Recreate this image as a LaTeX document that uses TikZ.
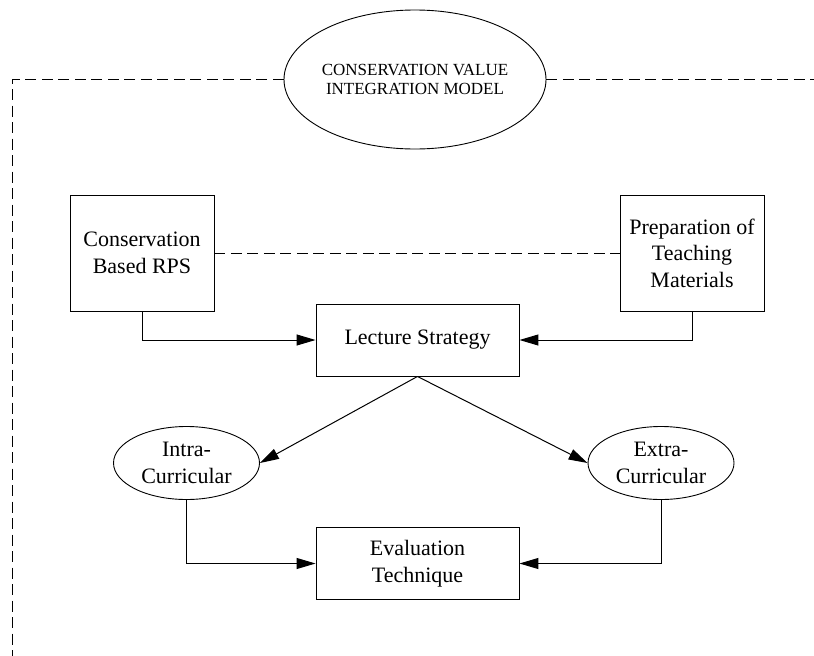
\documentclass[tikz,border=0pt]{standalone}
\usepackage{fontspec}
\setmainfont{Liberation Serif}
\newfontfamily\diagfont{Liberation Serif}
\usetikzlibrary{arrows.meta,shapes.geometric}

\tikzset{
	boxnode/.style={draw, rectangle, line width=0.9pt, align=center, inner sep=0pt,
		font=\diagfont\fontsize{22}{26.5}\selectfont},
	ovalnode/.style={draw, ellipse, line width=0.9pt, align=center, inner sep=0pt,
		minimum width=146pt, minimum height=73pt, font=\diagfont\fontsize{22}{26.5}\selectfont},
	flowarrow/.style={line width=1pt, -{Triangle[length=19pt,width=11pt]}},
	frameline/.style={line width=0.9pt, dash pattern=on 11pt off 5.5pt},
}

\begin{document}
\begin{tikzpicture}[x=1pt,y=-1pt]
		\useasboundingbox (0,0) rectangle (814,656);
		
		% title and the frame round the model
		\node[draw, ellipse, line width=0.9pt, align=center, inner xsep=-6pt, inner ysep=0pt,
			minimum width=262pt, minimum height=139pt, font=\diagfont\fontsize{17}{19.5}\selectfont]
			(title) at (415,79.5) {CONSERVATION VALUE\\INTEGRATION MODEL};
		\coordinate (frameBL) at (12.7,656);
		\coordinate (frameR) at (814,79.5);
		\draw[frameline] (title.west) -| (frameBL);
		\draw[frameline] (title.east) -- (title.east -| frameR);
		
		% planning
		\node[boxnode, minimum width=144pt, minimum height=116pt] (rps) at (142,253) {Conservation\\Based RPS};
		\node[boxnode, minimum width=144pt, minimum height=116pt] (prep) at (692,253) {Preparation of\\Teaching\\Materials};
		\draw[frameline] (rps.east) -- (prep.west);
		
		% strategy
		\node[boxnode, minimum width=203pt, minimum height=72pt] (lecture) at (417.5,340) {Lecture Strategy};
		\draw[flowarrow] (rps.south) |- (lecture.west);
		\draw[flowarrow] (prep.south) |- (lecture.east);
		
		\node[ovalnode] (intra) at (186.5,463) {Intra-\\Curricular};
		\node[ovalnode] (extra) at (661,463) {Extra-\\Curricular};
		\draw[flowarrow] (lecture.south) -- (intra.east);
		\draw[flowarrow] (lecture.south) -- (extra.west);
		
		% evaluation
		\node[boxnode, minimum width=203pt, minimum height=72pt] (eval) at (417.5,563.5) {Evaluation\\Technique};
		\draw[flowarrow] (intra.south) |- (eval.west);
		\draw[flowarrow] (extra.south) |- (eval.east);
		\end{tikzpicture}
\end{document}
